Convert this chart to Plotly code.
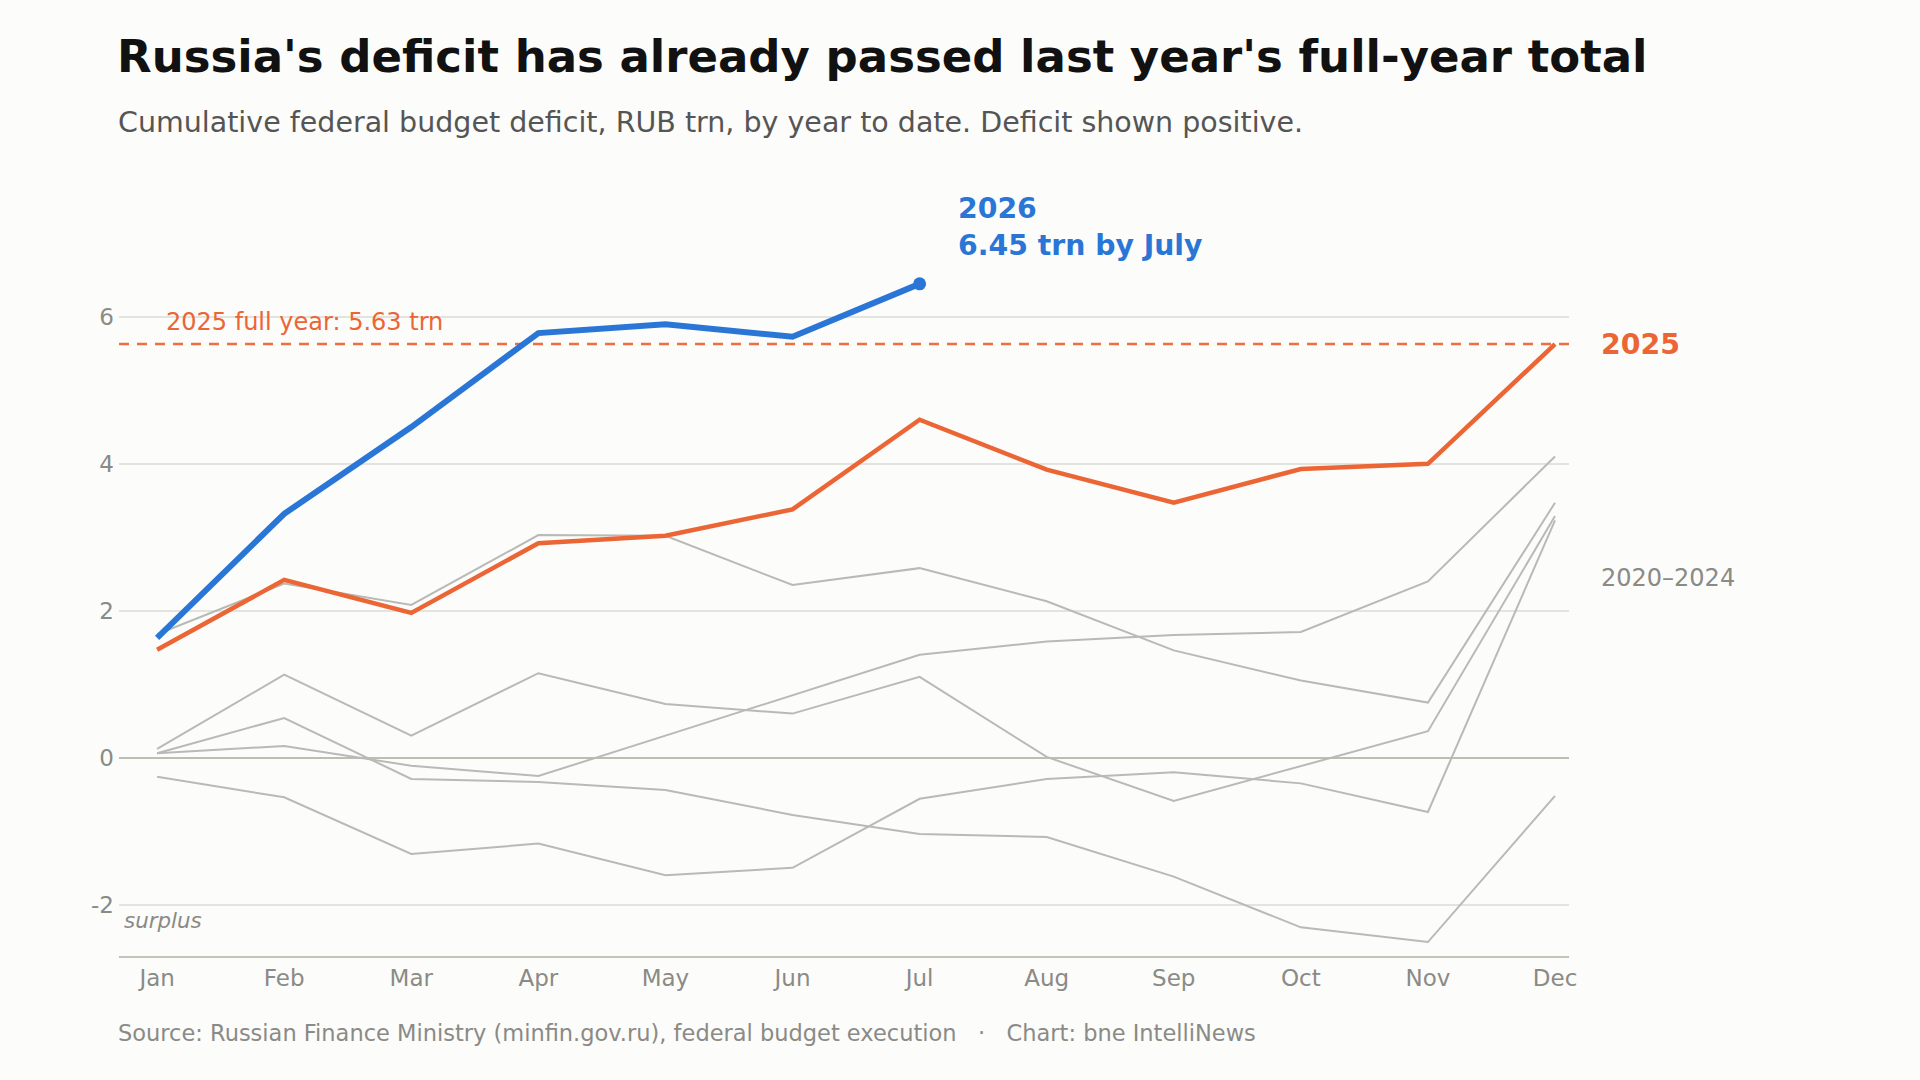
import plotly.graph_objects as go

# Cumulative federal budget deficit, RUB trn (deficit shown positive)
MONTHS = ["Jan", "Feb", "Mar", "Apr", "May", "Jun",
          "Jul", "Aug", "Sep", "Oct", "Nov", "Dec"]

Y2026 = [1.63, 3.32, 4.50, 5.78, 5.90, 5.73, 6.45]
Y2025 = [1.47, 2.42, 1.97, 2.92, 3.02, 3.38, 4.60, 3.92, 3.47, 3.93, 4.00, 5.63]

# earlier years, drawn in grey
Y2020 = [0.06, 0.16, -0.11, -0.25, 0.30, 0.85, 1.40, 1.58, 1.67, 1.71, 2.40, 4.10]
Y2021 = [0.06, 0.54, -0.29, -0.33, -0.44, -0.78, -1.04, -1.08, -1.62, -2.31, -2.51, -0.52]
Y2022 = [-0.26, -0.54, -1.31, -1.17, -1.60, -1.50, -0.56, -0.29, -0.20, -0.35, -0.74, 3.23]
Y2023 = [0.12, 1.13, 0.30, 1.15, 0.73, 0.60, 1.10, 0.01, -0.59, -0.11, 0.36, 3.29]
Y2024 = [1.68, 2.37, 2.08, 3.03, 3.02, 2.35, 2.58, 2.13, 1.46, 1.05, 0.75, 3.47]
GREY_YEARS = {"2020": Y2020, "2021": Y2021, "2022": Y2022, "2023": Y2023, "2024": Y2024}

FULL_YEAR_2025 = 5.63
Y_TICKS = [-2, 0, 2, 4, 6]
Y_TICK_TEXT = ["-2", "0", "2", "4", "6"]

BLUE = "#2a76d6"
ORANGE = "#eb6535"
GREY = "#b9b9b5"
TEXT_GREY = "#8a8a86"
BG = "#fcfcfa"
FONT = "DejaVu Sans"

fig = go.Figure()

for name, vals in GREY_YEARS.items():
    fig.add_trace(go.Scatter(
        x=MONTHS, y=vals, mode="lines", name=name,
        line=dict(color=GREY, width=2), showlegend=False, hoverinfo="skip"
    ))

fig.add_trace(go.Scatter(
    x=MONTHS, y=Y2025, mode="lines", name="2025",
    line=dict(color=ORANGE, width=4.5), showlegend=False
))

fig.add_trace(go.Scatter(
    x=MONTHS[:len(Y2026)], y=Y2026, mode="lines", name="2026",
    line=dict(color=BLUE, width=6), showlegend=False
))

# latest point marker
fig.add_trace(go.Scatter(
    x=[MONTHS[len(Y2026) - 1]], y=[Y2026[-1]], mode="markers",
    marker=dict(color=BLUE, size=13), showlegend=False
))

# 2025 full-year reference line
fig.add_shape(type="line", xref="paper", x0=0, x1=1, yref="y",
              y0=FULL_YEAR_2025, y1=FULL_YEAR_2025,
              line=dict(color="#ee6d42", width=2.5, dash="10px,8px"), layer="below")

# title + subtitle
fig.add_annotation(xref="paper", yref="paper", x=0, xshift=-4, y=1.0, yshift=114,
                   text="<b>Russia's deficit has already passed last year's full-year total</b>",
                   showarrow=False, xanchor="left", yanchor="middle",
                   font=dict(color="#111111", size=45, family=FONT))
fig.add_annotation(xref="paper", yref="paper", x=0, xshift=-3, y=1.0, yshift=48,
                   text="Cumulative federal budget deficit, RUB trn, by year to date. Deficit shown positive.",
                   showarrow=False, xanchor="left", yanchor="middle",
                   font=dict(color="#555555", size=28.5, family=FONT))

fig.add_annotation(xref="paper", x=0.031, y=FULL_YEAR_2025 + 0.3, yref="y",
                   text="2025 full year: 5.63 trn", showarrow=False,
                   xanchor="left", font=dict(color=ORANGE, size=24, family=FONT))

fig.add_annotation(x=MONTHS[len(Y2026) - 1], y=Y2026[-1], xshift=36, yshift=57,
                   text="<b>2026<br>6.45 trn by July</b>", showarrow=False,
                   xanchor="left", yanchor="middle", align="left",
                   font=dict(color=BLUE, size=28.3, family=FONT))

fig.add_annotation(xref="paper", x=1.0, xshift=30, y=Y2025[-1],
                   text="<b>2025</b>", showarrow=False, xanchor="left",
                   font=dict(color=ORANGE, size=28.4, family=FONT))

fig.add_annotation(xref="paper", x=1.0, xshift=30, y=2.45,
                   text="2020–2024", showarrow=False, xanchor="left",
                   font=dict(color=TEXT_GREY, size=24, family=FONT))

fig.add_annotation(xref="paper", x=0.002, y=-2.22,
                   text="<i>surplus</i>", showarrow=False, xanchor="left",
                   font=dict(color=TEXT_GREY, size=21.4, family=FONT))

fig.add_annotation(xref="paper", yref="paper", x=0, xshift=-3, y=0, yshift=-77,
                   text="Source: Russian Finance Ministry (minfin.gov.ru), federal budget execution"
                        "   ·   Chart: bne IntelliNews",
                   showarrow=False, xanchor="left", yanchor="middle",
                   font=dict(color=TEXT_GREY, size=22.5, family=FONT))

fig.update_layout(
    width=1920, height=1080,
    paper_bgcolor=BG, plot_bgcolor=BG,
    margin=dict(l=119, r=351, t=170, b=124),
    font=dict(family=FONT, color=TEXT_GREY),
    xaxis=dict(
        range=[-0.3, 11.11], showgrid=False, zeroline=False,
        showline=True, linecolor="#c4c4bc", linewidth=2,
        ticks="", tickfont=dict(size=23, color=TEXT_GREY), ticklabelstandoff=0,
    ),
    yaxis=dict(
        range=[-2.7, 8.0], tickvals=Y_TICKS, ticktext=Y_TICK_TEXT,
        showgrid=True, gridcolor="#e4e4de", gridwidth=1.5,
        zeroline=True, zerolinecolor="#bdbdb2", zerolinewidth=2,
        ticks="", tickfont=dict(size=23, color=TEXT_GREY), ticklabelstandoff=4,
    ),
)

# drop the default page margin so the figure sits at the window corner
fig.write_html("out.html",
               config={"displayModeBar": False},
               post_script="document.body.style.margin='0';"
                           "document.body.style.background='#fcfcfa';")
